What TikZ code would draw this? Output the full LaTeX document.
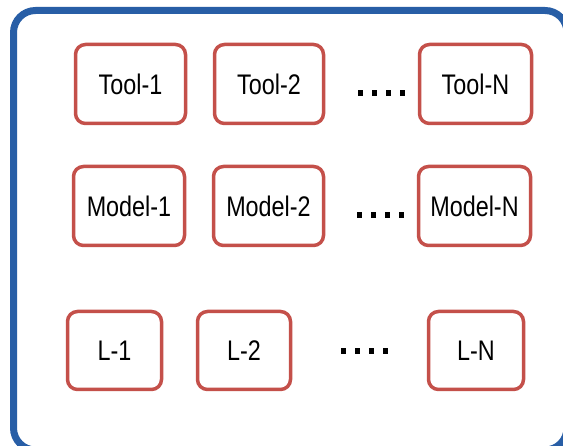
\documentclass[tikz,border=0pt]{standalone}
\usepackage{fontspec}
\setmainfont{Liberation Sans}
\begin{document}
\begin{tikzpicture}[x=1pt,y=-1pt,
  frame/.style={draw=framebl,line width=7pt,rounded corners=22pt},
  unit/.style={draw=unitred,line width=3.5pt,rounded corners=10pt,fill=white,
    minimum height=79pt,inner sep=0pt,
    font=\fontsize{27.5}{30}\selectfont},
  dotrow/.style={inner sep=0pt}]
\definecolor{framebl}{RGB}{40,94,166}
\definecolor{unitred}{RGB}{196,80,74}
\newcommand{\squeeze}[1]{\scalebox{0.85}[1.03]{#1}}
\newcommand{\fourdots}{\rule{5.5pt}{6pt}\hspace{8.5pt}\rule{5.5pt}{6pt}\hspace{8.5pt}\rule{5.5pt}{6pt}\hspace{8.5pt}\rule{5.5pt}{6pt}}
\useasboundingbox[fill=white] (0,0) rectangle (563,446);
% outer container
\draw[frame] (13.5,10.5) rectangle (567,450);
% first row: tools
\node[unit,minimum width=110pt] (t1) at (130.5,84) {\squeeze{Tool-1}};
\node[unit,minimum width=109pt] (t2) at (269,84) {\squeeze{Tool-2}};
\node[unit,minimum width=112pt] (tn) at (475.5,84) {\squeeze{Tool-N}};
\node[dotrow] (td) at (381.5,93.5) {\fourdots};
% second row: models
\node[unit,minimum width=111pt] (m1) at (129,206) {\squeeze{Model-1}};
\node[unit,minimum width=110pt] (m2) at (268.5,206) {\squeeze{Model-2}};
\node[unit,minimum width=112pt] (mn) at (474.5,206) {\squeeze{Model-N}};
\node[dotrow] (md) at (380.5,215) {\fourdots};
% third row
\node[unit,minimum width=94pt,minimum height=78pt] (l1) at (114.5,350.5) {\squeeze{L-1}};
\node[unit,minimum width=93pt,minimum height=78pt] (l2) at (244,350.5) {\squeeze{L-2}};
\node[unit,minimum width=95pt,minimum height=78pt] (ln) at (476,350.5) {\squeeze{L-N}};
\node[dotrow] (ld) at (364.5,351) {\fourdots};
\end{tikzpicture}
\end{document}
